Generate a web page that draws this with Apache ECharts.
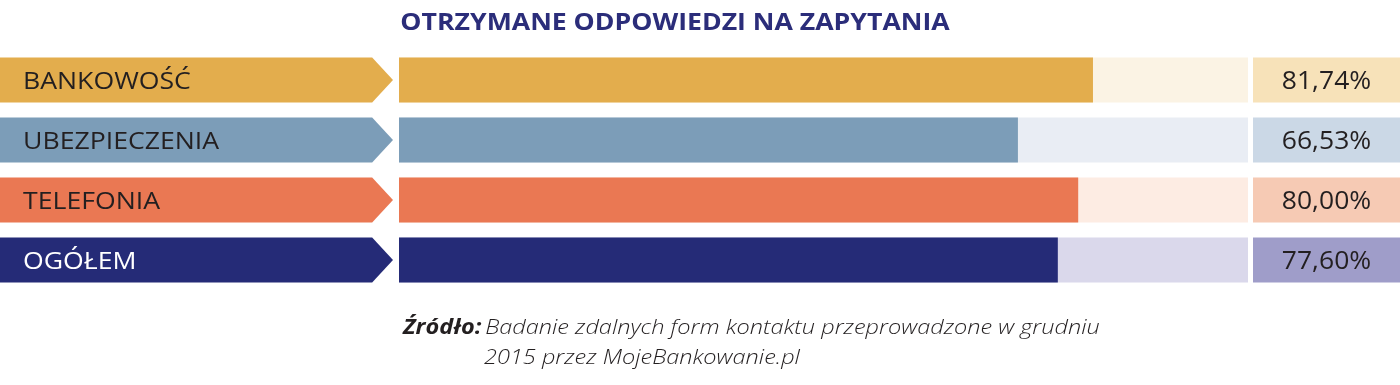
<!DOCTYPE html>
<html><head><meta charset="utf-8">
<script src="https://cdn.jsdelivr.net/npm/echarts@6/dist/echarts.min.js"></script>
<style>html,body{margin:0;padding:0;background:#fff}#c{width:1400px;height:385px}</style>
</head><body><div id="c"></div>
<script>
const categories = ['BANKOWOŚĆ', 'UBEZPIECZENIA', 'TELEFONIA', 'OGÓŁEM'];
const barValues = [81.74, 72.9, 80.0, 77.6];
const valueLabels = ['81,74%', '66,53%', '80,00%', '77,60%'];
const trackMax = [100, 100, 100, 100];
const mainColors = ['#E3AD4D', '#7C9DB8', '#EA7853', '#252B77'];
const trackColors = ['#FBF3E4', '#E9EDF4', '#FDECE3', '#DAD8EB'];
const boxColors = ['#F7E2B9', '#CBD8E6', '#F6CAB4', '#9F9DC9'];
const labelColors = ['#231F20', '#231F20', '#231F20', '#FFFFFF'];

const FONT = '"Open Sans", "Noto Sans", sans-serif';
const chart = echarts.init(document.getElementById('c'));
const gTop = 50, gH = 240;
const catAxis = (gi) => ({type: 'category', gridIndex: gi, data: categories, inverse: true,
  axisLine: {show: false}, axisTick: {show: false}, axisLabel: {show: false}, splitLine: {show: false}});
const valAxis = (gi, max) => ({type: 'value', gridIndex: gi, min: 0, max: max,
  axisLine: {show: false}, axisTick: {show: false}, axisLabel: {show: false}, splitLine: {show: false}});

chart.setOption({
  animation: false,
  grid: [
    {left: 0, top: gTop, width: 393, height: gH},
    {left: 399, top: gTop, width: 849, height: gH},
    {left: 1253, top: gTop, width: 147, height: gH}
  ],
  xAxis: [valAxis(0, 1), valAxis(1, 100), valAxis(2, 1)],
  yAxis: [catAxis(0), catAxis(1), catAxis(2)],
  series: [
    {
      type: 'custom', xAxisIndex: 0, yAxisIndex: 0,
      data: categories.map((c, i) => [i]),
      renderItem: function (params, api) {
        const i = api.value(0);
        const p0 = api.coord([0, i]);
        const p1 = api.coord([1, i]);
        const h = api.size([0, 1])[1] * 0.75;
        const kneeX = p0[0] + (p1[0] - p0[0]) * 0.947;
        const y0 = p0[1] - h / 2, y1 = p0[1] + h / 2;
        return {type: 'group', children: [
          {type: 'polygon', shape: {points: [[p0[0], y0], [kneeX, y0], [p1[0], p0[1]], [kneeX, y1], [p0[0], y1]]},
            style: {fill: mainColors[i]}},
          {type: 'text', x: p0[0] + 23, y: p0[1] + 2, scaleX: 1.11,
            style: {text: categories[i], fill: labelColors[i], font: '24px ' + FONT,
              verticalAlign: 'middle', align: 'left'}}
        ]};
      }
    },
    {
      type: 'bar', xAxisIndex: 1, yAxisIndex: 1, barWidth: 45, barGap: '-100%', silent: true,
      data: trackMax.map((v, i) => ({value: v, itemStyle: {color: trackColors[i]}}))
    },
    {
      type: 'bar', xAxisIndex: 1, yAxisIndex: 1, barWidth: 45, barGap: '-100%',
      data: barValues.map((v, i) => ({value: v, itemStyle: {color: mainColors[i]}}))
    },
    {
      type: 'custom', xAxisIndex: 2, yAxisIndex: 2, z: 5,
      data: valueLabels.map((t, i) => [i]),
      renderItem: function (params, api) {
        const i = api.value(0);
        const p0 = api.coord([0, i]);
        const p1 = api.coord([1, i]);
        const h = api.size([0, 1])[1] * 0.75;
        return {type: 'group', children: [
          {type: 'rect', shape: {x: p0[0], y: p0[1] - h / 2, width: p1[0] - p0[0], height: h},
            style: {fill: boxColors[i]}},
          {type: 'text', x: (p0[0] + p1[0]) / 2, y: p0[1] + 2, scaleX: 1.06,
            style: {text: valueLabels[i], fill: '#231F20', font: '25px ' + FONT,
              align: 'center', verticalAlign: 'middle'}}
        ]};
      }
    }
  ],
  graphic: [
    {type: 'text', x: 675, y: 23, scaleX: 1.11, style: {
      text: 'OTRZYMANE ODPOWIEDZI NA ZAPYTANIA', align: 'center', verticalAlign: 'middle',
      fontFamily: FONT, fontWeight: 'bold', fontSize: 24, fill: '#2B2D7A'}},
    {type: 'text', x: 403, y: 328, scaleX: 1.12, style: {
      text: '{b|Źródło:} {i|Badanie zdalnych form kontaktu przeprowadzone w grudniu}',
      verticalAlign: 'middle',
      rich: {
        b: {fontFamily: FONT, fontWeight: 'bold', fontStyle: 'italic', fontSize: 21, fill: '#231F20'},
        i: {fontFamily: FONT, fontWeight: 300, fontStyle: 'italic', fontSize: 21, fill: '#231F20'}
      }}},
    {type: 'text', x: 484, y: 358, scaleX: 1.12, style: {
      text: '2015 przez MojeBankowanie.pl', verticalAlign: 'middle', fontFamily: FONT, fontWeight: 300, fontStyle: 'italic',
      fontSize: 21, fill: '#231F20'}}
  ]
});
</script></body></html>
